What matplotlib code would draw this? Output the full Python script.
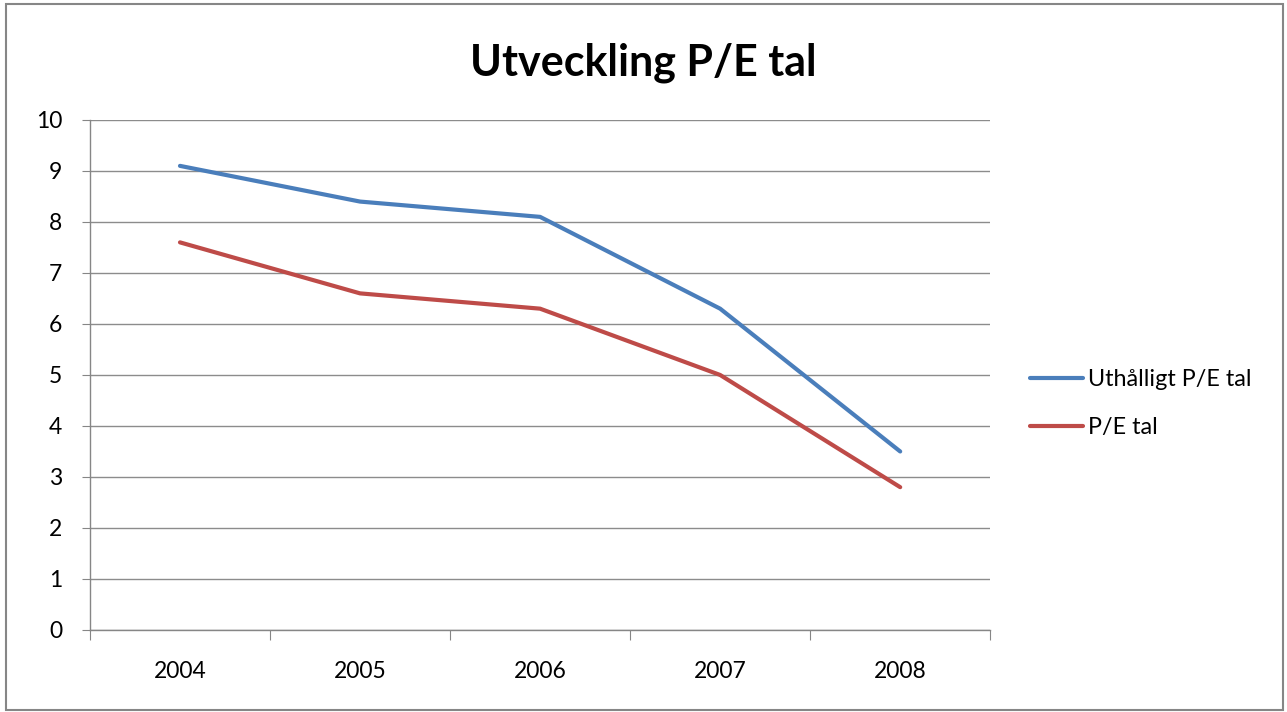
import matplotlib
matplotlib.use("Agg")
import matplotlib.pyplot as plt
from matplotlib.patches import Rectangle

# --- data ---
years = ["2004", "2005", "2006", "2007", "2008"]
uthalligt_pe = [9.1, 8.4, 8.1, 6.3, 3.5]
pe_tal = [7.6, 6.6, 6.3, 5.0, 2.8]
y_ticks = [0, 1, 2, 3, 4, 5, 6, 7, 8, 9, 10]

plt.rcParams['font.family'] = ['Lato', 'DejaVu Sans']

fig = plt.figure(figsize=(12.87, 7.12), dpi=100)
ax = fig.add_axes([0.0699, 0.1152, 0.6995, 0.7163])

# outer chart border
fig.patches.append(Rectangle((0.005, 0.003), 0.992, 0.992, transform=fig.transFigure,
                             fill=False, edgecolor='#868686', linewidth=1.5))

x = list(range(len(years)))
ax.plot(x, uthalligt_pe, color='#4A7EBB', linewidth=3, solid_capstyle='round',
        label='Uthålligt P/E tal')
ax.plot(x, pe_tal, color='#BE4B48', linewidth=3, solid_capstyle='round',
        label='P/E tal')

ax.set_xlim(-0.5, len(years) - 0.5)
ax.set_ylim(0, 10)
ax.set_yticks(y_ticks)
ax.set_yticklabels([str(v) for v in y_ticks], fontsize=16.5)

# category ticks between bands, labels in the middle
ax.set_xticks([i - 0.5 for i in range(len(years) + 1)])
ax.set_xticklabels([])
ax.set_xticks(x, minor=True)
ax.set_xticklabels(years, minor=True, fontsize=16.5)
ax.tick_params(axis='x', which='major', length=7, color='#868686', direction='out')
ax.tick_params(axis='x', which='minor', length=0, pad=22)
ax.tick_params(axis='y', length=6, color='#868686', pad=14)

ax.grid(axis='y', color='#8c8c8c', linewidth=1)
ax.set_axisbelow(True)
for s in ['top', 'right']:
    ax.spines[s].set_visible(False)
for s in ['left', 'bottom']:
    ax.spines[s].set_color('#868686')
    ax.spines[s].set_linewidth(1)

fig.suptitle('Utveckling P/E tal', fontsize=31, fontweight='bold', y=0.94)

ax.legend(loc='center left', bbox_to_anchor=(1.044, 0.444), frameon=False, fontsize=16.8,
          handlelength=2.3, handletextpad=0.2, labelspacing=1.15, borderpad=0,
          borderaxespad=0)

fig.savefig('out.png', dpi=100)
